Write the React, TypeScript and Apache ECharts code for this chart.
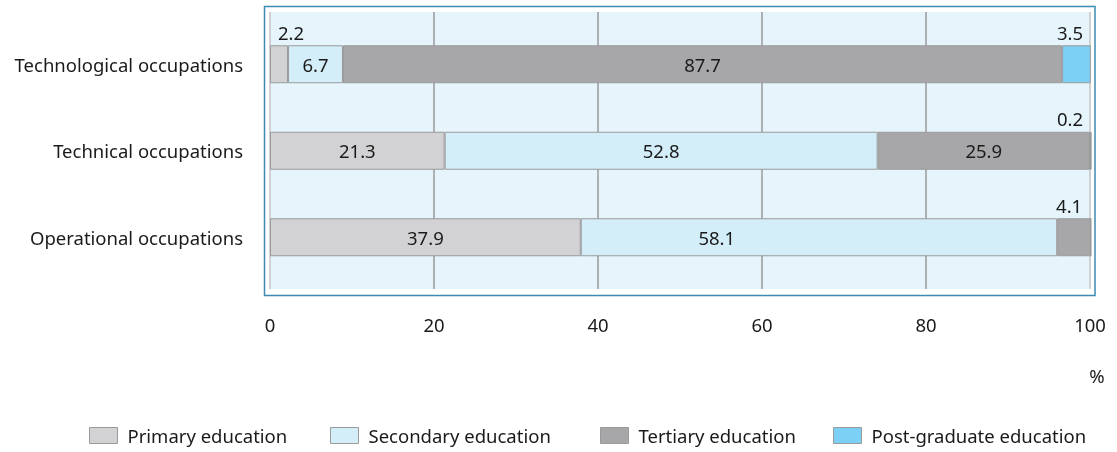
import React, { useEffect, useRef } from "react";
import * as echarts from "echarts";

const categories = ["Technological occupations", "Technical occupations", "Operational occupations"];
const seriesNames = ["Primary education", "Secondary education", "Tertiary education", "Post-graduate education"];
const primary = [2.2, 21.3, 37.9];
const secondary = [6.7, 52.8, 58.1];
const tertiary = [87.7, 25.9, 4.1];
const postgrad = [3.5, 0.2, 0];
const xTicks = [0, 20, 40, 60, 80, 100];

const colors = ["#d2d2d4", "#d3edf9", "#a7a7aa", "#7dd0f5"];
const FONT = "Noto Sans";
const FS = 18.5;
const TEXT = "#1a1a1a";

// label overrides: [seriesIndex]-[categoryIndex]
const labelOverrides: Record<string, any> = {
  "0-0": { position: [8, -13], align: "left", verticalAlign: "middle" },
  "3-0": { position: [21, -13], align: "right", verticalAlign: "middle" },
  "3-1": { position: [-7, -13], align: "right", verticalAlign: "middle" },
  "2-2": { position: [25, -13], align: "right", verticalAlign: "middle" },
  "1-2": { position: [136, 19], align: "center", verticalAlign: "middle" },
};

const legendLefts = [89, 330, 600, 833];

export default function App() {
  const ref = useRef<HTMLDivElement>(null);
  useEffect(() => {
    const chart = echarts.init(ref.current!, undefined, { renderer: "svg" });
    const all = [primary, secondary, tertiary, postgrad];
    const series = all.map((vals, si) => ({
      name: seriesNames[si],
      type: "bar",
      stack: "total",
      xAxisIndex: 1,
      yAxisIndex: 1,
      barWidth: 38,
      itemStyle: { color: colors[si], borderColor: "#9a9a9a", borderWidth: 1 },
      label: {
        show: true,
        position: "inside",
        color: TEXT,
        fontFamily: FONT,
        fontSize: FS,
        formatter: (p: any) => (p.value > 0 ? String(p.value) : ""),
      },
      data: vals.map((v, ci) => {
        const ov = labelOverrides[`${si}-${ci}`];
        return ov ? { value: v, label: ov } : v;
      }),
    }));
    chart.setOption({
      animation: false,
      textStyle: { fontFamily: FONT },
      grid: [
        { left: 270, right: 27, top: 12, height: 277, show: true, backgroundColor: "#e6f4fc", borderWidth: 0 },
        { left: 270, right: 25.36, top: 21, height: 259.5 },
      ],
      xAxis: [
        {
          gridIndex: 0,
          type: "value",
          min: 0,
          max: 100,
          interval: 20,
          axisLine: { show: false },
          axisTick: { show: false },
          axisLabel: { color: TEXT, fontSize: FS, fontFamily: FONT, margin: 26 },
          splitLine: {
            show: true,
            lineStyle: { color: ["#c4c4c4", "#9a9a9a", "#9a9a9a", "#9a9a9a", "#9a9a9a", "#c4c4c4"], width: 1.5 },
          },
          data: xTicks,
        },
        { gridIndex: 1, type: "value", min: 0, max: 100.2, show: false },
      ],
      yAxis: [
        { gridIndex: 0, type: "category", data: categories, show: false },
        {
          gridIndex: 1,
          type: "category",
          data: categories,
          inverse: true,
          axisLine: { show: false },
          axisTick: { show: false },
          splitLine: { show: false },
          axisLabel: { color: TEXT, fontSize: FS, fontFamily: FONT, margin: 27 },
        },
      ],
      legend: seriesNames.map((n, i) => ({
        data: [n],
        icon: "rect",
        left: legendLefts[i],
        top: 426,
        itemWidth: 28,
        itemHeight: 16,
        itemGap: 8,
        padding: 0,
        textStyle: { color: TEXT, fontSize: FS, fontFamily: FONT, padding: [0, 0, 0, 5] },
        itemStyle: { borderColor: "#9a9a9a", borderWidth: 1 },
        selectedMode: false,
      })),
      graphic: [
        {
          type: "rect",
          shape: { x: 264.5, y: 6.5, width: 830.5, height: 289 },
          style: { fill: "none", stroke: "#3d8bb3", lineWidth: 1.5 },
          z: 100,
        },
        {
          type: "text",
          x: 1097,
          y: 375,
          style: { text: "%", fill: TEXT, fontSize: FS, fontFamily: FONT, textAlign: "center", textVerticalAlign: "middle" },
        },
      ],
      series,
    });
    return () => chart.dispose();
  }, []);
  return <div ref={ref} style={{ position: "fixed", left: 0, top: 0, width: 1117, height: 452 }} />;
}
